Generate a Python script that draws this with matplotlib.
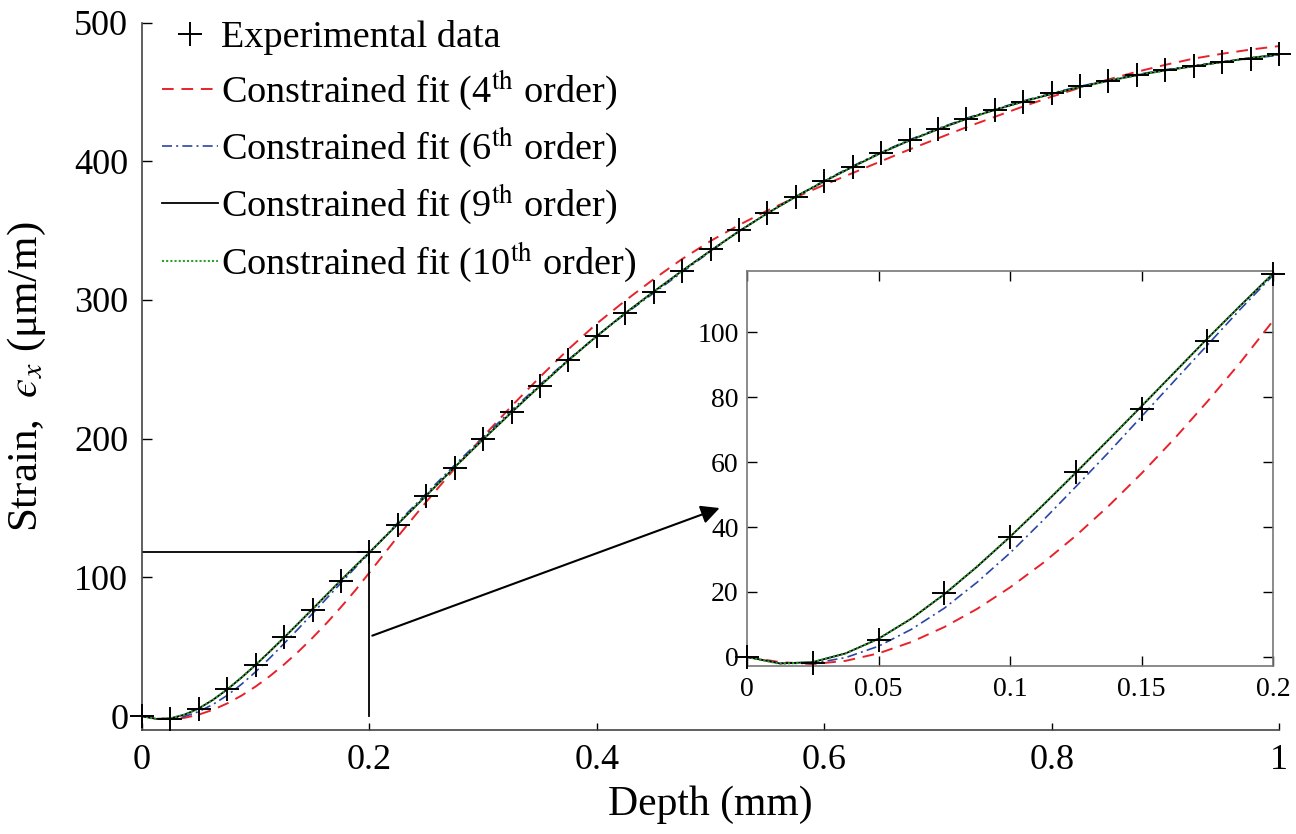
import numpy as np
import matplotlib
matplotlib.use('Agg')
import matplotlib.pyplot as plt
from matplotlib.ticker import FuncFormatter

plt.rcParams['font.family'] = ['Liberation Serif', 'DejaVu Serif']
plt.rcParams['mathtext.fontset'] = 'stix'

# experimental points (depth in mm, strain in um/m)
depth = [0, 0.025, 0.05, 0.075, 0.1, 0.125, 0.15, 0.175, 0.2, 0.225,
         0.25, 0.275, 0.3, 0.325, 0.35, 0.375, 0.4, 0.425, 0.45, 0.475,
         0.5, 0.525, 0.55, 0.575, 0.6, 0.625, 0.65, 0.675, 0.7, 0.725,
         0.75, 0.775, 0.8, 0.825, 0.85, 0.875, 0.9, 0.925, 0.95, 0.975, 1.0]
strain = [0, -2.0, 5.3, 19.6, 37.0, 56.8, 76.4, 97.4, 118.0, 138.0,
          158.5, 179.0, 199.5, 219.0, 238.0, 256.5, 274.0, 290.5, 306.0, 321.0,
          336.5, 350.5, 363.0, 374.5, 386.0, 396.0, 406.0, 415.0, 423.0, 430.5,
          437.0, 443.0, 449.0, 454.0, 458.0, 462.0, 466.0, 469.0, 471.5, 474.0, 477.0]

# fitted curves
x_fit = [0, 0.0125, 0.025, 0.0375, 0.05, 0.0625, 0.075, 0.0875, 0.1, 0.1125,
         0.125, 0.1375, 0.15, 0.1625, 0.175, 0.1875, 0.2, 0.225, 0.25, 0.275,
         0.3, 0.325, 0.35, 0.375, 0.4, 0.425, 0.45, 0.475, 0.5, 0.525,
         0.55, 0.575, 0.6, 0.625, 0.65, 0.675, 0.7, 0.725, 0.75, 0.775,
         0.8, 0.825, 0.85, 0.875, 0.9, 0.925, 0.95, 0.975, 1.0]
fit4 = [0, -1.6, -2.2, -1.2, 1.1, 4.6, 9.2, 14.8, 21.4, 28.9,
        37.3, 46.5, 56.5, 67.2, 78.6, 90.6, 103.5, 129.5, 154.5, 178.5,
        201.5, 223.5, 244.5, 264.5, 283.0, 299.5, 315.0, 329.5, 342.5, 354.0,
        364.5, 374.0, 383.0, 391.5, 400.0, 408.5, 416.5, 424.5, 432.0, 439.5,
        446.5, 453.0, 459.0, 464.5, 469.5, 474.0, 477.5, 480.5, 483.0]
fit6 = [0, -1.9, -2.0, -0.2, 3.3, 8.5, 15.0, 23.0, 32.0, 42.0,
        52.4, 63.0, 74.0, 85.0, 96.0, 107.0, 117.5, 139.5, 160.5, 181.0,
        201.0, 220.5, 239.0, 257.0, 274.0, 290.0, 305.0, 320.0, 335.0, 349.5,
        362.5, 374.5, 386.0, 396.5, 406.5, 415.5, 423.5, 431.0, 437.5, 443.5,
        449.0, 454.0, 458.5, 462.5, 466.0, 469.0, 471.5, 474.0, 476.5]
fit9 = [0, -2.0, -1.6, 1.1, 5.6, 11.8, 19.3, 27.8, 37.0, 46.7,
        56.7, 66.9, 77.2, 87.6, 98.0, 108.1, 118.0, 138.5, 159.0, 179.5,
        199.5, 219.0, 238.0, 256.5, 274.0, 290.5, 306.0, 321.0, 335.5, 349.5,
        362.5, 374.5, 385.5, 396.0, 406.0, 415.0, 423.0, 430.5, 437.0, 443.0,
        448.5, 453.5, 458.0, 462.0, 465.5, 468.5, 471.5, 474.5, 477.0]
fit10 = [0, -2.1, -1.6, 1.1, 5.6, 11.8, 19.3, 27.9, 37.0, 46.8,
         56.8, 67.0, 77.2, 87.6, 98.0, 108.1, 118.0, 138.5, 159.0, 179.5,
         199.5, 219.0, 238.0, 256.5, 274.0, 290.5, 306.0, 321.0, 335.5, 349.5,
         362.5, 374.5, 385.5, 396.0, 406.0, 415.0, 423.0, 430.5, 437.0, 443.0,
         448.5, 453.5, 458.0, 462.0, 465.5, 468.5, 471.5, 474.5, 477.0]

labels = ['Experimental data',
          r'Constrained fit (4$^{\mathrm{th}}$ order)',
          r'Constrained fit (6$^{\mathrm{th}}$ order)',
          r'Constrained fit (9$^{\mathrm{th}}$ order)',
          r'Constrained fit (10$^{\mathrm{th}}$ order)']

zoom_end = 0.2

red = '#e8222a'
blue = '#2a45a8'
green = '#2e9e2e'


def draw_curves(a, mask=None, ms=17):
    a.plot(x_fit, fit4, color=red, lw=1.4, dashes=(6, 4), label=labels[1])
    a.plot(x_fit, fit6, color=blue, lw=1.2, dashes=(6, 2.5, 1.2, 2.5), label=labels[2])
    a.plot(x_fit, fit9, color='k', lw=1.3, label=labels[3])
    a.plot(x_fit, fit10, color=green, lw=1.5, dashes=(1, 1), label=labels[4])
    xd = np.array(depth)
    yd = np.array(strain)
    if mask is not None:
        xd = xd[mask]
        yd = yd[mask]
    a.plot(xd, yd, '+', color='k', ms=ms, mew=1.4, clip_on=False,
           label=labels[0], zorder=5)


fig = plt.figure(figsize=(12.96, 8.34), dpi=100)
ax = fig.add_axes([0.1096, 0.1247, 0.8773, 0.8483])
draw_curves(ax)

ax.set_xlim(0, 1)
ax.set_ylim(-10, 500)
ax.set_xticks([0, 0.2, 0.4, 0.6, 0.8, 1.0])
ax.set_yticks([0, 100, 200, 300, 400, 500])
fmt = FuncFormatter(lambda v, p: '{:g}'.format(v))
ax.xaxis.set_major_formatter(fmt)
ax.spines['top'].set_visible(False)
ax.spines['right'].set_visible(False)
for s in ['left', 'bottom']:
    ax.spines[s].set_color('#444444')
    ax.spines[s].set_linewidth(1.2)
ax.tick_params(direction='in', length=7, width=1, labelsize=26, pad=10)
ax.tick_params(axis='x', length=5)
ax.set_xlabel('Depth (mm)', fontsize=30, labelpad=6)
ax.set_ylabel('Strain,  $\u03f5_x$ (\u03bcm/m)', fontsize=31)
ax.yaxis.set_label_coords(-0.083, 0.5)

# zoom box lines + arrow
i = depth.index(zoom_end)
ax.plot([0, depth[i]], [strain[i], strain[i]], color='k', lw=1.3)
ax.plot([depth[i], depth[i]], [0, strain[i]], color='k', lw=1.3)
ax.annotate('', xy=(0.508, 150), xytext=(0.2025, 58),
            arrowprops=dict(arrowstyle='-|>', color='k', lw=1.5,
                            mutation_scale=28, shrinkA=0, shrinkB=0))

h, l = ax.get_legend_handles_labels()
order = [4, 0, 1, 2, 3]
leg = ax.legend([h[k] for k in order], [l[k] for k in order],
                loc='upper left', bbox_to_anchor=(0.001, 1.03), frameon=False,
                fontsize=27.5, handlelength=1.45, handletextpad=0.1,
                labelspacing=0.34, borderpad=0)

# inset
axin = fig.add_axes([0.5764, 0.2014, 0.4059, 0.4736])
mask = np.array(depth) <= zoom_end + 1e-9
draw_curves(axin, mask=mask, ms=17)
axin.set_xlim(0, zoom_end)
axin.set_ylim(-2.8, 118.8)
axin.set_xticks([0, 0.05, 0.1, 0.15, 0.2])
axin.set_yticks([0, 20, 40, 60, 80, 100])
axin.xaxis.set_major_formatter(fmt)
for s in axin.spines.values():
    s.set_color('#777777')
    s.set_linewidth(1.2)
axin.tick_params(direction='in', length=7, width=1, labelsize=20, pad=6,
                 top=True, right=True)
axin.tick_params(axis='x', pad=8)

fig.savefig('out.png', dpi=100)
